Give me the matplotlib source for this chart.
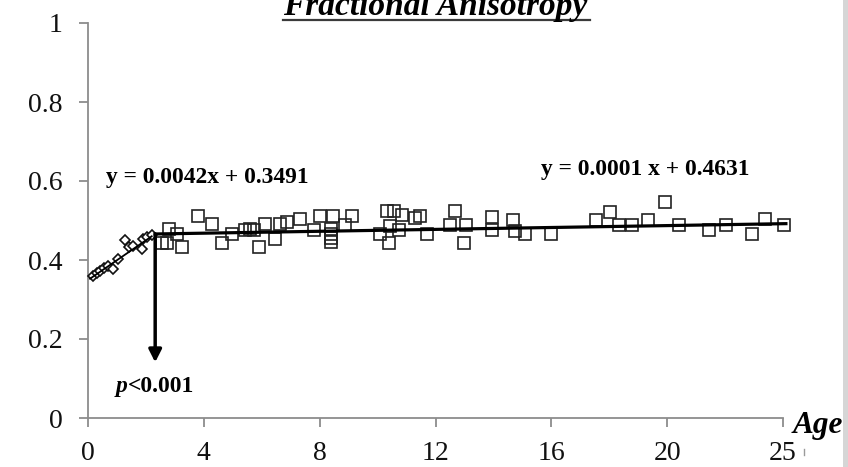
import numpy as np
import matplotlib
matplotlib.use("Agg")
import matplotlib.pyplot as plt
from matplotlib.lines import Line2D
from matplotlib.patches import Rectangle

plt.rcParams['font.family'] = ['Liberation Serif', 'DejaVu Serif']

# Infant group (0-2 years): age in years, FA
infant_age = [0.18, 0.30, 0.42, 0.55, 0.70, 0.87, 1.02, 1.28, 1.43, 1.55, 1.85, 1.90, 2.05, 2.20]
infant_fa = [0.360, 0.366, 0.373, 0.380, 0.385, 0.378, 0.402, 0.450, 0.432, 0.435, 0.428, 0.452, 0.458, 0.463]

# Older group: age in years, FA
older_age = [2.55, 2.72, 2.80, 3.08, 3.24, 3.79, 4.27, 4.62, 4.97, 5.42, 5.60, 5.73, 5.92, 6.11,
             6.46, 6.63, 6.88, 7.32, 7.81, 8.01, 8.39, 8.39, 8.39, 8.39, 8.45, 8.88, 9.11, 10.08,
             10.32, 10.58, 10.41, 10.43, 10.74, 10.85, 11.30, 11.46, 11.70, 12.50, 12.66, 12.98,
             13.06, 13.96, 13.96, 14.69, 14.74, 15.09, 15.98, 17.55, 18.01, 18.32, 18.78, 19.35,
             19.93, 20.42, 21.46, 22.04, 22.93, 23.38, 24.04]
older_fa = [0.442, 0.442, 0.478, 0.466, 0.433, 0.511, 0.491, 0.442, 0.465, 0.475, 0.478, 0.475,
            0.432, 0.492, 0.454, 0.490, 0.496, 0.503, 0.475, 0.511, 0.478, 0.467, 0.456, 0.445,
            0.511, 0.488, 0.511, 0.467, 0.524, 0.524, 0.442, 0.486, 0.475, 0.513, 0.507, 0.511,
            0.467, 0.488, 0.523, 0.442, 0.489, 0.509, 0.477, 0.502, 0.474, 0.467, 0.467, 0.501,
            0.522, 0.488, 0.488, 0.501, 0.547, 0.488, 0.475, 0.488, 0.467, 0.503, 0.488]

# Linear fits (x in months)
fit1_slope, fit1_icpt = 0.0042, 0.3491
fit2_slope, fit2_icpt = 0.0001, 0.4631
fit1_range = [0.07, 2.2]     # years
fit2_range = [2.32, 24.1]    # years
breakpoint_age = 2.32
arrow_tip = 0.141

x_ticks = [0, 4, 8, 12, 16, 20, 24]
x_tick_labels = ['0', '4', '8', '12', '16', '20', '25']
y_ticks = [0, 0.2, 0.4, 0.6, 0.8, 1.0]
y_tick_labels = ['0', '0.2', '0.4', '0.6', '0.8', '1']

W, H = 848, 467
fig = plt.figure(figsize=(W / 100, H / 100), dpi=100)
ax = fig.add_axes([88 / W, 1 - 418 / H, 695 / W, 395 / H])
ax.set_xlim(0, 24)
ax.set_ylim(0, 1)

spine_col = '#8c8c8c'
for s in ['top', 'right']:
    ax.spines[s].set_visible(False)
for s in ['left', 'bottom']:
    ax.spines[s].set_color(spine_col)
    ax.spines[s].set_linewidth(1.3)
ax.tick_params(direction='out', length=6.5, width=1.3, color=spine_col,
               labelsize=20, labelcolor='#111111')
ax.tick_params(axis='y', pad=12)
ax.tick_params(axis='x', pad=10)
ax.set_xticks(x_ticks)
ax.set_xticklabels(x_tick_labels)
ax.set_yticks(y_ticks)
ax.set_yticklabels(y_tick_labels)

# Data markers
ax.plot(older_age, older_fa, linestyle='none', marker='s', markersize=9,
        markerfacecolor='none', markeredgecolor='#222222', markeredgewidth=1.2,
        zorder=3, clip_on=False)
ax.plot(infant_age, infant_fa, linestyle='none', marker='D', markersize=5.2,
        markerfacecolor='white', markeredgecolor='#111111', markeredgewidth=1.2,
        zorder=3, clip_on=False)

# Trend lines from the fitted equations
x1 = np.array(fit1_range)
ax.plot(x1, fit1_icpt + fit1_slope * x1 * 12, color='black', lw=1.3, zorder=4)
x2 = np.array(fit2_range)
ax.plot(x2, fit2_icpt + fit2_slope * x2 * 12, color='black', lw=2.3, zorder=4, clip_on=False)

# Breakpoint arrow
y_break = fit2_icpt + fit2_slope * breakpoint_age * 12
ax.annotate('', xy=(breakpoint_age, arrow_tip), xytext=(breakpoint_age, y_break),
            arrowprops=dict(arrowstyle='-|>,head_length=0.75,head_width=0.38',
                            lw=2.5, color='black', shrinkA=0, shrinkB=0), zorder=5)

bold = dict(fontweight='bold', color='black')
ax.text(0.62, 0.594, 'y = 0.0042x + 0.3491', fontsize=16.9, va='baseline', ha='left', **bold)
ax.text(15.64, 0.614, 'y = 0.0001 x + 0.4631', fontsize=16.9, va='baseline', ha='left', **bold)

fig.canvas.draw()
renderer = fig.canvas.get_renderer()
tp = ax.text(0.97, 0.066, 'p', fontsize=17, style='italic', va='baseline', ha='left', **bold)
bb = tp.get_window_extent(renderer)
x_after = ax.transData.inverted().transform((bb.x1, bb.y0))[0]
ax.text(x_after, 0.066, '<0.001', fontsize=17, va='baseline', ha='left', **bold)

ax.text(24.34, -0.038, 'Age', fontsize=22.5, style='italic', va='baseline', ha='left',
        clip_on=False, **bold)

# Title with underline
title = fig.text(283 / W, 1 - 15 / H, 'Fractional Anisotropy', fontsize=24, style='italic',
                 fontweight='bold', ha='left', va='baseline', color='black')
fig.add_artist(Line2D([283 / W, 590 / W], [1 - 19.5 / H, 1 - 19.5 / H], color='#3a3a3a', lw=1.6))

# Small mark below the axis end and the gray border strip on the right
fig.add_artist(Line2D([804 / W, 804 / W], [1 - 449 / H, 1 - 455 / H], color='#9a9a9a', lw=1.0))
fig.add_artist(Rectangle((843 / W, 0), 5 / W, 1, transform=fig.transFigure,
                         facecolor='#d6d6d6', edgecolor='none'))

fig.savefig('out.png', dpi=100)
